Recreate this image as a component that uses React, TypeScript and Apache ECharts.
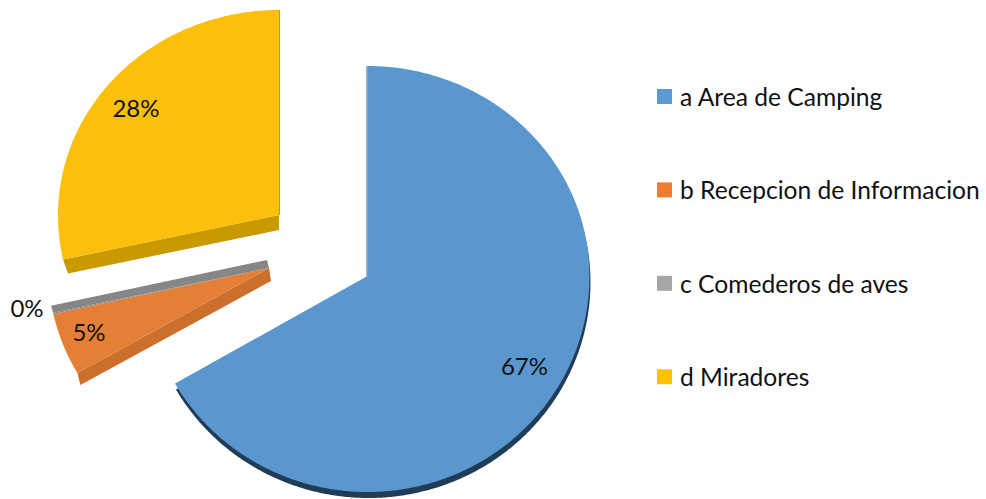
import React, { useEffect, useRef } from "react";
import * as echarts from "echarts";

const categories = ["a Area de Camping", "b Recepcion de Informacion", "c Comederos de aves", "d Miradores"];
const shares = [66.7, 4.8, 0.1, 28.4];
const legendColors = ["#5B9BD5", "#ED7D31", "#A5A5A5", "#FFC000"];

const FONT = "Lato";
const FONT_SIZE = 24;
const LEGEND_FONT_SIZE = 24.6;

type Wall = { edge: "start" | "end"; a: [number, number]; o: [number, number]; fill: string };
type Layout = {
  ax: number; ay: number; rx: number; ryTop: number; ryBottom: number;
  surface: string; rim?: { dx: number; dy: number; fill: string }; walls: Wall[];
  labelDx: number; labelDy: number;
};

const layouts: Layout[] = [
  { ax: 367.5, ay: 276, rx: 222, ryTop: 210, ryBottom: 216, surface: "#5B97CF",
    rim: { dx: 1, dy: 6, fill: "#203D58" },
    walls: [{ edge: "start", a: [-1, 0], o: [-1, 0], fill: "#3F6A90" }],
    labelDx: 157, labelDy: 89 },
  { ax: 269, ay: 268, rx: 221, ryTop: 205, ryBottom: 211, surface: "#E67F36",
    walls: [{ edge: "start", a: [2, 13], o: [3, 12], fill: "#CC6E2C" }],
    labelDx: -180, labelDy: 63 },
  { ax: 269, ay: 268, rx: 221, ryTop: 205, ryBottom: 211, surface: "#868686",
    walls: [{ edge: "end", a: [-2, -8], o: [-2, -7], fill: "#868686" }],
    labelDx: -242, labelDy: 39 },
  { ax: 279, ay: 215, rx: 221, ryTop: 205, ryBottom: 210, surface: "#FBBF0C",
    walls: [
      { edge: "start", a: [0, 15], o: [5, 14], fill: "#C99A00" },
      { edge: "end", a: [1, 0], o: [1, 0], fill: "#C99A00" },
    ],
    labelDx: -143, labelDy: -108 },
];

const total = shares.reduce((s, v) => s + v, 0);

function rimPoint(l: Layout, deg: number): [number, number] {
  const t = (deg * Math.PI) / 180;
  const c = Math.cos(t);
  return [l.ax + l.rx * Math.sin(t), l.ay - (c >= 0 ? l.ryTop : l.ryBottom) * c];
}

function wedge(l: Layout, from: number, to: number, dx = 0, dy = 0): number[][] {
  const pts: number[][] = [[l.ax + dx, l.ay + dy]];
  const steps = Math.max(2, Math.ceil((to - from) * 2));
  for (let i = 0; i <= steps; i++) {
    const p = rimPoint(l, from + ((to - from) * i) / steps);
    pts.push([p[0] + dx, p[1] + dy]);
  }
  return pts;
}

function renderSlice(index: number) {
  return (_params: any, api: any) => {
    const l = layouts[index];
    const before = shares.slice(0, index).reduce((s, v) => s + v, 0);
    const value = api.value(0) as number;
    const from = (before / total) * 360;
    const to = ((before + value) / total) * 360;
    const children: any[] = [];
    if (l.rim) {
      children.push({ type: "polygon", shape: { points: wedge(l, from, to, l.rim.dx, l.rim.dy) }, style: { fill: l.rim.fill } });
    }
    for (const w of l.walls) {
      const p = rimPoint(l, w.edge === "start" ? from : to);
      children.push({
        type: "polygon",
        shape: { points: [[l.ax, l.ay], p, [p[0] + w.o[0], p[1] + w.o[1]], [l.ax + w.a[0], l.ay + w.a[1]]] },
        style: { fill: w.fill },
      });
    }
    children.push({ type: "polygon", shape: { points: wedge(l, from, to) }, style: { fill: l.surface } });
    children.push({
      type: "text",
      z2: 10,
      style: {
        text: `${Math.round((value / total) * 100)}%`,
        x: l.ax + l.labelDx,
        y: l.ay + l.labelDy,
        fill: "#111111",
        fontSize: FONT_SIZE,
        fontFamily: FONT,
        align: "center",
        verticalAlign: "middle",
      },
    });
    return { type: "group", children };
  };
}

export default function App() {
  const ref = useRef<HTMLDivElement>(null);
  useEffect(() => {
    const chart = echarts.init(ref.current!, undefined, { renderer: "svg" });
    chart.setOption({
      animation: false,
      backgroundColor: "#FFFFFF",
      legend: {
        orient: "vertical",
        left: 652,
        top: 79,
        selectedMode: false,
        itemWidth: 15,
        itemHeight: 15,
        itemGap: 68.4,
        data: categories,
        icon: "rect",
        formatter: (n: string) => n,
        textStyle: { fontFamily: FONT, fontSize: LEGEND_FONT_SIZE, color: "#111111", padding: [0, 0, 0, 3] },
      },
      series: categories.map((name, i) => ({
        type: "custom",
        name,
        coordinateSystem: "none",
        silent: true,
        itemStyle: { color: legendColors[i] },
        data: [[shares[i]]],
        renderItem: renderSlice(i),
      })),
    });
    return () => chart.dispose();
  }, []);
  return <div ref={ref} style={{ position: "fixed", left: 0, top: 0, width: 986, height: 499 }} />;
}
